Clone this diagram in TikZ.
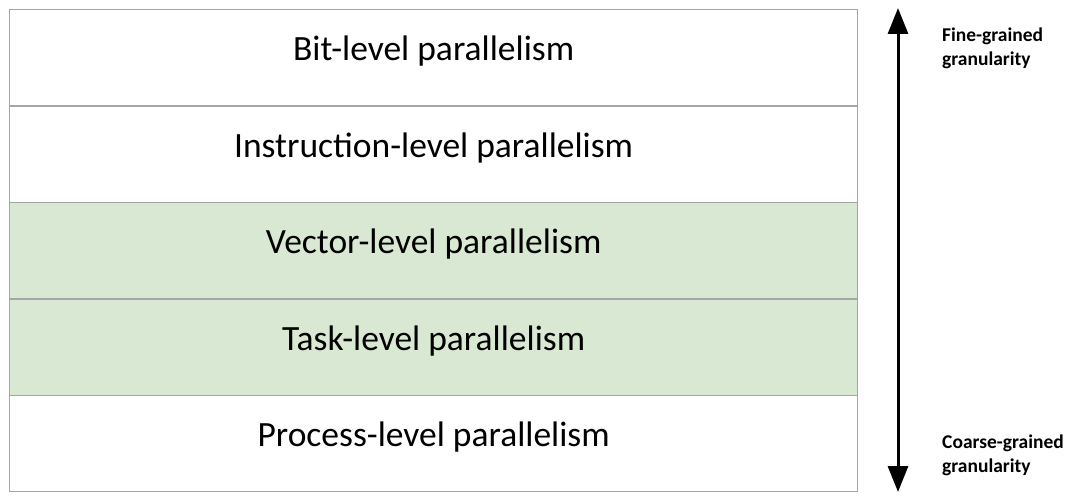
\documentclass[tikz,border=0pt]{standalone}
\usepackage{fontspec}
\setmainfont{Carlito}
\usetikzlibrary{arrows.meta}
\definecolor{rowgreen}{HTML}{D9E8D3}
\definecolor{rowedge}{HTML}{A6A6A6}
\tikzset{
  level/.style={draw=rowedge, line width=1.3pt, minimum width=848pt, minimum height=96.4pt,
    inner sep=0pt, text height=24pt, text depth=18pt,
    font=\fontsize{35.5}{40}\selectfont, anchor=north west},
  plain/.style={level, fill=white},
  shaded/.style={level, fill=rowgreen},
  scalelabel/.style={font=\bfseries\fontsize{19.5}{24}\selectfont, align=left, anchor=west, inner sep=0pt},
  scalearrow/.style={line width=3pt, {Triangle[width=20pt,length=26pt]}-{Triangle[width=20pt,length=26pt]}}
}
\begin{document}
\begin{tikzpicture}[x=1pt,y=-1pt]
  \useasboundingbox (0,0) rectangle (1074,503);
  \node[plain]  (bit)     at (9,9)     {Bit-level parallelism};
  \node[plain]  (instr)   at (9,105.4) {Instruction-level parallelism};
  \node[shaded] (vector)  at (9,201.8) {Vector-level parallelism};
  \node[shaded] (task)    at (9,298.2) {Task-level parallelism};
  \node[plain]  (process) at (9,394.6) {Process-level parallelism};
  \coordinate (top) at (898,8);
  \coordinate (bottom) at (898,492);
  \draw[scalearrow] (top) -- (bottom);
  \node[scalelabel] (fine)   at (942,48.5)  {Fine-grained\\granularity};
  \node[scalelabel] (coarse) at (942,455.5) {Coarse-grained\\granularity};
\end{tikzpicture}
\end{document}
